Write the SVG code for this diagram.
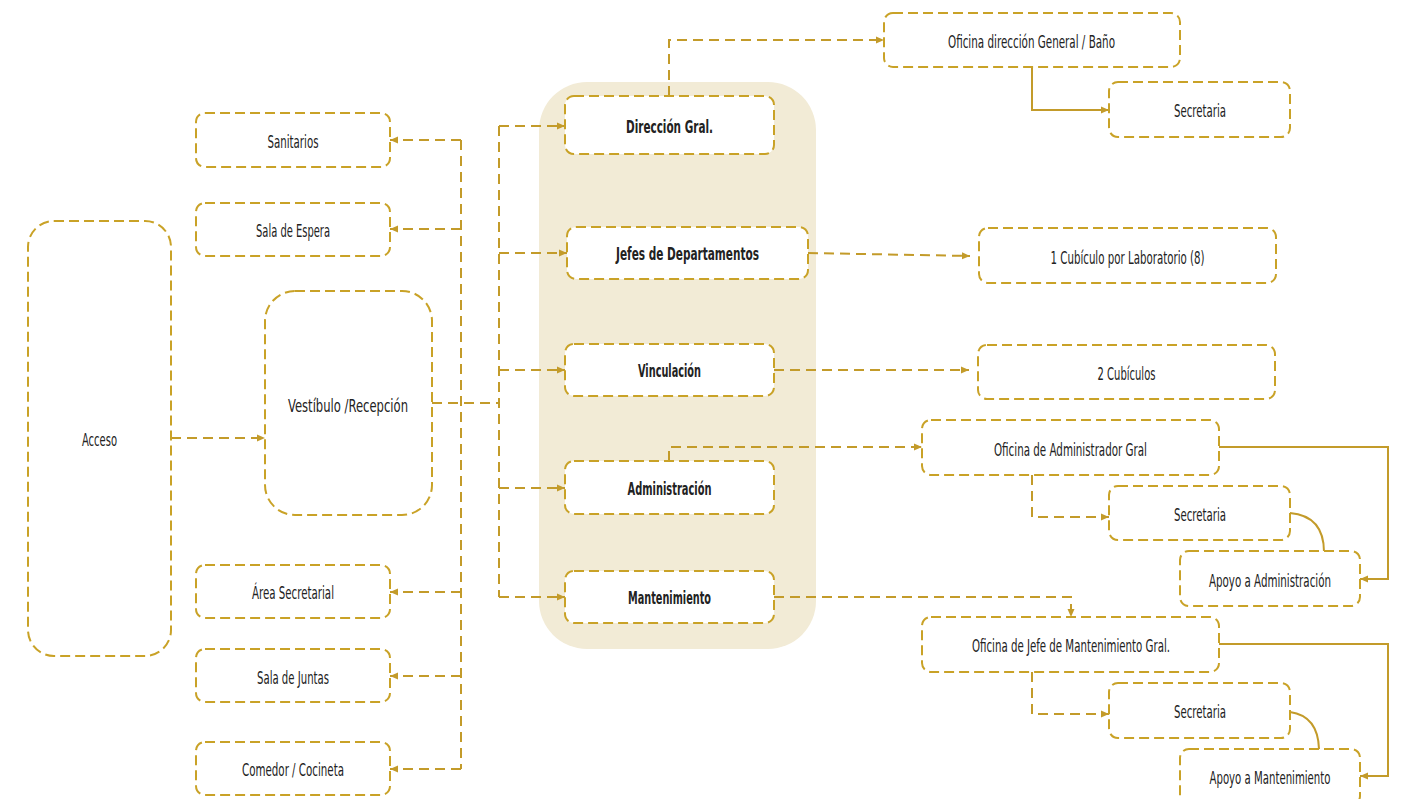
<svg xmlns="http://www.w3.org/2000/svg" width="1402" height="799" viewBox="0 0 1402 799">
  <style>
    .box { fill: #ffffff; stroke: #c9a227; stroke-width: 2; stroke-dasharray: 10 5; }
    .lbl { font-family: 'Liberation Sans Narrow', 'DejaVu Sans Condensed', 'Liberation Sans', sans-serif; font-size: 18px; fill: #222222; text-anchor: middle; dominant-baseline: central; }
    .bold { font-weight: bold; font-size: 17px; }
    .dash { fill: none; stroke: #c39b2a; stroke-width: 2; stroke-dasharray: 10 6; }
    .solid { fill: none; stroke: #c39b2a; stroke-width: 2; }
  </style>
  <defs>
    <marker id="arrow" viewBox="0 0 8 8" refX="8" refY="4" markerWidth="8" markerHeight="8" markerUnits="userSpaceOnUse" orient="auto">
      <path d="M0,0.5 L8,4 L0,7.5 Z" fill="#c39b2a"/>
    </marker>
  </defs>

  <rect x="0" y="0" width="1402" height="799" fill="#ffffff"/>

  <!-- department area backdrop -->
  <rect id="area-departamentos" x="539" y="82" width="277" height="567" rx="48" fill="#f2ebd6"/>

  <g id="connectors">
    <!-- entrance to lobby -->
    <path class="dash" d="M171,438 H265" marker-end="url(#arrow)"/>
    <!-- lobby to both distribution trunks -->
    <path class="dash" d="M432,403 H499"/>
    <!-- left trunk: service rooms -->
    <path class="dash" d="M461,140 V769"/>
    <path class="dash" d="M461,140 H390" marker-end="url(#arrow)"/>
    <path class="dash" d="M461,229 H390" marker-end="url(#arrow)"/>
    <path class="dash" d="M461,592 H390" marker-end="url(#arrow)"/>
    <path class="dash" d="M461,676 H390" marker-end="url(#arrow)"/>
    <path class="dash" d="M461,769 H390" marker-end="url(#arrow)"/>
    <!-- right trunk: departments -->
    <path class="dash" d="M499,126 V597"/>
    <path class="dash" d="M499,126 H565" marker-end="url(#arrow)"/>
    <path class="dash" d="M499,253 H567" marker-end="url(#arrow)"/>
    <path class="dash" d="M499,370 H565" marker-end="url(#arrow)"/>
    <path class="dash" d="M499,488 H565" marker-end="url(#arrow)"/>
    <path class="dash" d="M499,597 H565" marker-end="url(#arrow)"/>
    <!-- department outlets -->
    <path class="dash" d="M669,96 V40 H884" marker-end="url(#arrow)"/>
    <path class="solid" d="M1032,67 V110 H1109" marker-end="url(#arrow)"/>
    <path class="dash" d="M808,253 L970,256" marker-end="url(#arrow)"/>
    <path class="dash" d="M774,370 H969" marker-end="url(#arrow)"/>
    <path class="dash" d="M669,461 V447 H922" marker-end="url(#arrow)"/>
    <path class="dash" d="M1032,475 V517 H1109" marker-end="url(#arrow)"/>
    <path class="solid" d="M1290,513 Q1324,516 1324,552"/>
    <path class="solid" d="M1219,447 H1388 V579 H1360" marker-end="url(#arrow)"/>
    <path class="dash" d="M774,597 H1071 V617" marker-end="url(#arrow)"/>
    <path class="dash" d="M1032,672 V714 H1109" marker-end="url(#arrow)"/>
    <path class="solid" d="M1290,712 Q1318,716 1319,749"/>
    <path class="solid" d="M1219,644 H1388 V776 H1360" marker-end="url(#arrow)"/>
  </g>

  <g id="acceso">
    <rect class="box" x="28" y="221" width="143" height="435" rx="26"/>
    <text class="lbl" x="99.5" y="439" textLength="35" lengthAdjust="spacingAndGlyphs">Acceso</text>
  </g>
  <g id="vestibulo">
    <rect class="box" x="265" y="291" width="167" height="224" rx="30"/>
    <text class="lbl" x="348" y="405" textLength="120" lengthAdjust="spacingAndGlyphs">Vestíbulo /Recepción</text>
  </g>
  <g id="sanitarios">
    <rect class="box" x="196" y="113" width="194" height="54" rx="9"/>
    <text class="lbl" x="293" y="141" textLength="51" lengthAdjust="spacingAndGlyphs">Sanitarios</text>
  </g>
  <g id="sala-espera">
    <rect class="box" x="196" y="203" width="194" height="53" rx="9"/>
    <text class="lbl" x="293" y="230" textLength="74" lengthAdjust="spacingAndGlyphs">Sala de Espera</text>
  </g>
  <g id="area-secretarial">
    <rect class="box" x="196" y="565" width="194" height="53" rx="9"/>
    <text class="lbl" x="293" y="592" textLength="82" lengthAdjust="spacingAndGlyphs">Área Secretarial</text>
  </g>
  <g id="sala-juntas">
    <rect class="box" x="196" y="649" width="194" height="53" rx="9"/>
    <text class="lbl" x="293" y="677" textLength="72" lengthAdjust="spacingAndGlyphs">Sala de Juntas</text>
  </g>
  <g id="comedor">
    <rect class="box" x="196" y="742" width="194" height="53" rx="9"/>
    <text class="lbl" x="293" y="769" textLength="102" lengthAdjust="spacingAndGlyphs">Comedor / Cocineta</text>
  </g>

  <g id="direccion">
    <rect class="box" x="565" y="96" width="209" height="58" rx="9"/>
    <text class="lbl bold" x="669.5" y="127" textLength="87" lengthAdjust="spacingAndGlyphs">Dirección Gral.</text>
  </g>
  <g id="jefes">
    <rect class="box" x="567" y="227" width="241" height="52" rx="9"/>
    <text class="lbl bold" x="687.5" y="254" textLength="143" lengthAdjust="spacingAndGlyphs">Jefes de Departamentos</text>
  </g>
  <g id="vinculacion">
    <rect class="box" x="565" y="344" width="209" height="52" rx="9"/>
    <text class="lbl bold" x="669.5" y="371" textLength="63" lengthAdjust="spacingAndGlyphs">Vinculación</text>
  </g>
  <g id="administracion">
    <rect class="box" x="565" y="461" width="209" height="53" rx="9"/>
    <text class="lbl bold" x="669.5" y="489" textLength="84" lengthAdjust="spacingAndGlyphs">Administración</text>
  </g>
  <g id="mantenimiento">
    <rect class="box" x="565" y="571" width="209" height="52" rx="9"/>
    <text class="lbl bold" x="669.5" y="598" textLength="83" lengthAdjust="spacingAndGlyphs">Mantenimiento</text>
  </g>

  <g id="oficina-direccion">
    <rect class="box" x="884" y="13" width="296" height="54" rx="9"/>
    <text class="lbl" x="1031.5" y="41" textLength="167" lengthAdjust="spacingAndGlyphs">Oficina dirección General / Baño</text>
  </g>
  <g id="secretaria-direccion">
    <rect class="box" x="1109" y="82" width="181" height="55" rx="9"/>
    <text class="lbl" x="1200" y="110" textLength="52" lengthAdjust="spacingAndGlyphs">Secretaria</text>
  </g>
  <g id="cubiculos-laboratorio">
    <rect class="box" x="979" y="228" width="297" height="55" rx="9"/>
    <text class="lbl" x="1127.5" y="257" textLength="154" lengthAdjust="spacingAndGlyphs">1 Cubículo por Laboratorio (8)</text>
  </g>
  <g id="cubiculos-vinculacion">
    <rect class="box" x="978" y="345" width="297" height="54" rx="9"/>
    <text class="lbl" x="1126.5" y="373" textLength="58" lengthAdjust="spacingAndGlyphs">2 Cubículos</text>
  </g>
  <g id="oficina-administrador">
    <rect class="box" x="922" y="420" width="297" height="55" rx="9"/>
    <text class="lbl" x="1070.5" y="449" textLength="153" lengthAdjust="spacingAndGlyphs">Oficina de Administrador Gral</text>
  </g>
  <g id="secretaria-administracion">
    <rect class="box" x="1109" y="486" width="181" height="54" rx="9"/>
    <text class="lbl" x="1200" y="514" textLength="52" lengthAdjust="spacingAndGlyphs">Secretaria</text>
  </g>
  <g id="apoyo-administracion">
    <rect class="box" x="1180" y="551" width="180" height="55" rx="9"/>
    <text class="lbl" x="1270" y="580" textLength="122" lengthAdjust="spacingAndGlyphs">Apoyo a Administración</text>
  </g>
  <g id="oficina-mantenimiento">
    <rect class="box" x="922" y="617" width="297" height="55" rx="9"/>
    <text class="lbl" x="1071" y="645" textLength="198" lengthAdjust="spacingAndGlyphs">Oficina de Jefe de Mantenimiento Gral.</text>
  </g>
  <g id="secretaria-mantenimiento">
    <rect class="box" x="1109" y="683" width="181" height="55" rx="9"/>
    <text class="lbl" x="1200" y="711" textLength="52" lengthAdjust="spacingAndGlyphs">Secretaria</text>
  </g>
  <g id="apoyo-mantenimiento">
    <rect class="box" x="1180" y="749" width="180" height="56" rx="9"/>
    <text class="lbl" x="1270" y="777" textLength="121" lengthAdjust="spacingAndGlyphs">Apoyo a Mantenimiento</text>
  </g>
</svg>
